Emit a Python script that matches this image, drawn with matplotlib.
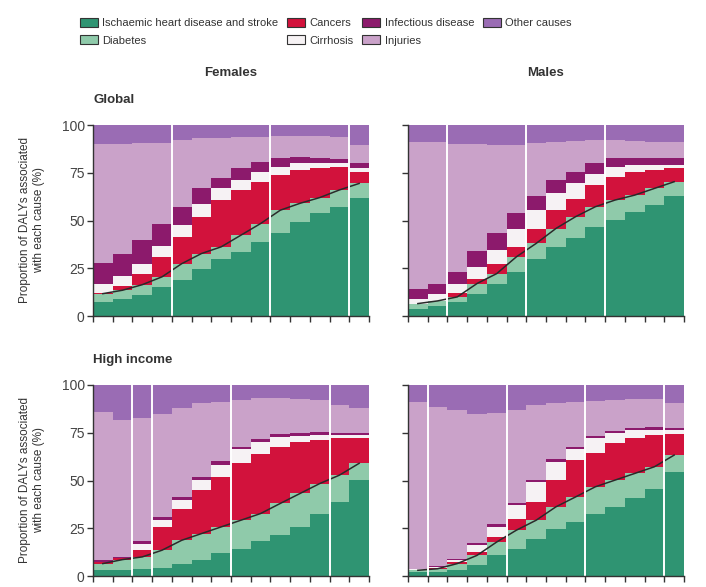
import matplotlib.pyplot as plt
import numpy as np
from matplotlib.patches import Patch

plt.rcParams['font.family'] = ['Liberation Sans', 'DejaVu Sans']

causes = ["Ischaemic heart disease and stroke", "Diabetes", "Cancers", "Cirrhosis",
          "Infectious disease", "Injuries", "Other causes"]
colours = ["#2f9472", "#8fcaaa", "#d2123c", "#f6f2f4", "#8c1a6c", "#caa2c9", "#9a6cb4"]

# cumulative tops (%) per column, bottom to top; other causes fills to 100
fem_global = {
    "ihd":    [7.3, 9, 10.8, 15.2, 18.7, 24.8, 30, 33.6, 38.8, 43.2, 49.3, 53.7, 57.2, 62],
    "diab":   [11.7, 13.5, 16.4, 20.5, 27.4, 32.7, 36.2, 42.3, 48.4, 55.4, 59, 62, 66, 69.4],
    "cancer": [12, 15.6, 22.2, 31, 41.4, 52, 60.7, 66, 70.3, 73.8, 76.4, 77.3, 77.8, 75.5],
    "cirr":   [17, 21, 27.4, 36.5, 47.5, 58.6, 66.8, 71, 75.5, 78, 80, 80, 80, 77.3],
    "infect": [27.8, 32.7, 40, 48.4, 57.2, 66.8, 72, 77.3, 80.8, 82.5, 83, 82.5, 82, 80.2],
    "injury": [90, 90, 90.4, 90.7, 92, 93, 93, 93.5, 93.5, 94, 94, 94, 93.5, 89.5],
}
male_global = {
    "ihd":    [3.8, 5, 7.3, 11.7, 17, 23, 30, 36.2, 40.6, 46.7, 50.2, 54.5, 58, 62.8],
    "diab":   [6.5, 7.9, 10, 17, 22.2, 31, 38, 45.8, 52, 57.2, 60.7, 63.3, 66.8, 70.3],
    "cancer": [6.5, 7.9, 12, 19.6, 27.4, 36.2, 45.8, 55.4, 61.5, 68.5, 73, 75.5, 76.4, 77.3],
    "cirr":   [9, 11.7, 16.6, 25.7, 34.4, 45.8, 55.4, 64.2, 69.4, 74.6, 77.8, 79, 79, 79],
    "infect": [14.3, 17, 23, 34, 43.2, 54, 62.8, 71, 75.5, 80, 82.5, 82.5, 82.5, 82.5],
    "injury": [91, 91, 90, 90, 89.5, 89.5, 90.5, 91, 91.5, 92, 92, 91.5, 91, 91],
}
fem_high = {
    "ihd":    [3, 3.3, 3.8, 4.4, 6.5, 8.2, 12, 14.3, 18.4, 21.3, 25.7, 32.7, 38.8, 50.2],
    "diab":   [6.5, 8.6, 10, 13.5, 18.7, 22.2, 25.7, 29.2, 32.7, 38, 43.2, 48.4, 52.8, 59],
    "cancer": [7.5, 9.5, 13.5, 25.7, 35.3, 45, 52, 59, 63.8, 67.7, 70.3, 71.2, 72, 72],
    "cirr":   [7.5, 9.5, 17, 29.2, 40, 50.5, 58, 66.3, 70.3, 73, 73.3, 73.8, 73.8, 73.8],
    "infect": [8.3, 10.2, 18.4, 31, 41.4, 52, 60.3, 67.7, 71.5, 74.3, 74.7, 75.5, 75, 74.7],
    "injury": [86, 81.6, 82.5, 85, 87.8, 90.4, 91.3, 92.1, 93, 93, 92.5, 92.1, 89.5, 87.8],
}
male_high = {
    "ihd":    [2, 2, 3, 5.6, 10.8, 14.3, 19.6, 24.8, 28.3, 32.7, 36.2, 40.6, 45.8, 54.5],
    "diab":   [3, 3.8, 6.5, 10.8, 17.8, 24, 29.2, 36.2, 41.4, 46.7, 50.2, 53.7, 57.2, 63.3],
    "cancer": [3.3, 4.3, 7.3, 12.6, 20.5, 30, 38.8, 50.2, 60.7, 64.2, 69.4, 72, 73.8, 74.6],
    "cirr":   [3.5, 4.7, 8.2, 16, 25.7, 37, 49.3, 59.8, 66.3, 72, 75, 76.4, 76.7, 76.4],
    "infect": [3.8, 5, 9, 17.3, 27, 38, 50.5, 61, 67.7, 73.3, 76, 77.3, 77.8, 77.3],
    "injury": [91.3, 88.6, 86.9, 85, 85.5, 86.9, 89.5, 90.4, 91.3, 91.8, 92.1, 92.5, 92.5, 90.7],
}

# column boundaries marked with white lines
fem_global_breaks = [4, 9, 13]
male_global_breaks = [2, 6, 10]
fem_high_breaks = [2, 3, 7, 12]
male_high_breaks = [1, 5, 9, 13]


def panel(ax, d, breaks, show_labels):
    keys = ["ihd", "diab", "cancer", "cirr", "infect", "injury"]
    n = len(d["ihd"])
    x = np.arange(n)
    tops = [np.array(d[k], dtype=float) for k in keys] + [np.full(n, 100.0)]
    bottom = np.zeros(n)
    for top, c in zip(tops, colours):
        h = np.clip(top - bottom, 0, None)
        ax.bar(x, h, bottom=bottom, width=1.0, align='edge', color=c, linewidth=0)
        bottom = bottom + h
    ax.plot(x + 0.5, d["diab"], color="#2a2a2a", lw=1.1)
    for b in breaks:
        ax.axvline(b, color="white", lw=1.4)
    ax.set_xlim(0, n)
    ax.set_ylim(0, 100)
    ax.set_xticks(np.arange(n + 1))
    ax.set_xticklabels([])
    ax.set_yticks([0, 25, 50, 75, 100])
    if not show_labels:
        ax.set_yticklabels([])
    ax.tick_params(direction='out', length=4, width=1, color="#333333",
                   labelsize=10, labelcolor="#444444", pad=2)
    for s in ["top", "right"]:
        ax.spines[s].set_visible(False)
    for s in ["left", "bottom"]:
        ax.spines[s].set_color("#333333")
        ax.spines[s].set_linewidth(1.0)


fig = plt.figure(figsize=(7.06, 5.87), dpi=100)
W, H = 706, 587
axes = [
    (93, 125, fem_global, fem_global_breaks, True),
    (408, 125, male_global, male_global_breaks, False),
    (93, 385, fem_high, fem_high_breaks, True),
    (408, 385, male_high, male_high_breaks, False),
]
for x0, y0, d, br, lab in axes:
    ax = fig.add_axes([x0 / W, 1 - (y0 + 191) / H, 276 / W, 191 / H])
    panel(ax, d, br, lab)

fig.text(231 / W, 1 - 73 / H, "Females", ha='center', va='center', fontsize=9.5, fontweight='bold', color="#333333")
fig.text(546 / W, 1 - 73 / H, "Males", ha='center', va='center', fontsize=9.5, fontweight='bold', color="#333333")
fig.text(93 / W, 1 - 100 / H, "Global", ha='left', va='center', fontsize=9.5, fontweight='bold', color="#333333")
fig.text(93 / W, 1 - 360 / H, "High income", ha='left', va='center', fontsize=9.5, fontweight='bold', color="#333333")
for yc in [220, 480]:
    fig.text(32 / W, 1 - yc / H, "Proportion of DALYs associated\nwith each cause (%)", rotation=90,
             ha='center', va='center', fontsize=8.5, color="#333333", linespacing=1.3)

handles = [Patch(facecolor=c, edgecolor="#333333", linewidth=0.8) for c in colours]
fig.legend(handles, causes, ncol=4, loc='upper left', bbox_to_anchor=(70 / W, 1 - 8 / H),
           frameon=False, fontsize=8, handlelength=1.6, handleheight=0.9, handletextpad=0.4,
           columnspacing=0.8, labelspacing=0.6, labelcolor="#333333")

fig.savefig("out.png", dpi=100)
